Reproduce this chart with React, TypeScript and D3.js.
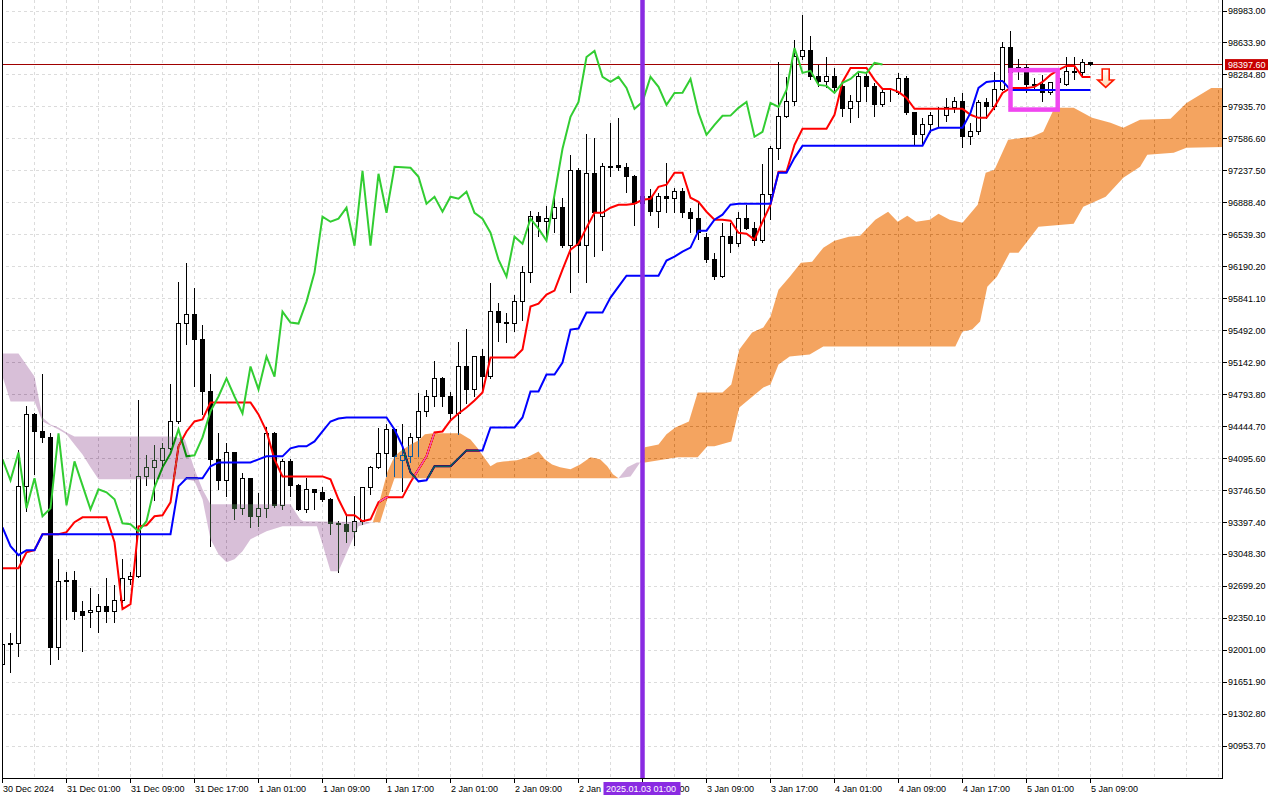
import React from "react";
import * as d3 from "d3";

// hourly candles, 30 Dec 17:00 .. 5 Jan 09:00  [open, high, low, close]
const candles: [number, number, number, number][] = [
  [91849, 92121, 91772, 92067], [92067, 92198, 91761, 92078], [92078, 94194, 91936, 93790], [93790, 94674, 93518, 94576],
  [94576, 94598, 93921, 94390], [94390, 95023, 94270, 94325], [94325, 94379, 91849, 92034], [92034, 93005, 91903, 92754],
  [92754, 92863, 92339, 92765], [92765, 92874, 92339, 92427], [92427, 92547, 91990, 92383], [92416, 92689, 92252, 92438],
  [92427, 92623, 92198, 92481], [92481, 92798, 92307, 92427], [92427, 92721, 92307, 92547], [92547, 93005, 92525, 92787],
  [92776, 92863, 92721, 92809], [92809, 94739, 92798, 93899], [93899, 94139, 93801, 93998], [93998, 94248, 93637, 94074],
  [94074, 94270, 93998, 94205], [94205, 94914, 94194, 94499], [94499, 96027, 94480, 95568], [95568, 96234, 95339, 95667],
  [95667, 95961, 94881, 95394], [95394, 95558, 94576, 94827], [94827, 95023, 93136, 94085], [94085, 94379, 93758, 93856],
  [93856, 94270, 93681, 94161], [94161, 94172, 93430, 93550], [93550, 93943, 93485, 93878], [93878, 93888, 93343, 93463],
  [93463, 93725, 93354, 93550], [93550, 94445, 93452, 94369], [94369, 94390, 93561, 93583], [93583, 94096, 93539, 94063],
  [94063, 94096, 93681, 93801], [93801, 93823, 93528, 93539], [93539, 93888, 93507, 93758], [93758, 93769, 93539, 93725],
  [93725, 93790, 93627, 93649], [93649, 93670, 93267, 93387], [93387, 93419, 92852, 93376], [93376, 93485, 93179, 93299],
  [93299, 93692, 93147, 93409], [93409, 93790, 93376, 93779], [93779, 94019, 93703, 93998], [93998, 94434, 93990, 94150],
  [94150, 94478, 93899, 94412], [94412, 94434, 93899, 94118], [94074, 94478, 93736, 94129], [94118, 94379, 94052, 94325],
  [94325, 94816, 94118, 94609], [94609, 94849, 94554, 94772], [94772, 95165, 94663, 94969], [94969, 94990, 94663, 94772],
  [94772, 94827, 94521, 94587], [94587, 95372, 94358, 95099], [95099, 95514, 94696, 94849], [94849, 95219, 94772, 95209],
  [95209, 95296, 94816, 94990], [94990, 96016, 94969, 95699], [95699, 95798, 95372, 95579], [95579, 95688, 95361, 95568],
  [95568, 95885, 95481, 95808], [95808, 96201, 95601, 96125], [96125, 96801, 96016, 96736], [96736, 96790, 96518, 96681],
  [96681, 96856, 96474, 96714], [96714, 96943, 96561, 96834], [96834, 96943, 96398, 96419], [96419, 97412, 95907, 97238],
  [97238, 97270, 96125, 96419], [96419, 97641, 96016, 97205], [97205, 97598, 96299, 96779], [96736, 97325, 96365, 97281],
  [97281, 97761, 97172, 97276], [97292, 97816, 97238, 97270], [97270, 97325, 96998, 97172], [97172, 97194, 96638, 96878],
  [96878, 96976, 96790, 96954], [96954, 97041, 96747, 96790], [96790, 96998, 96616, 96954], [96954, 97325, 96779, 96932],
  [96932, 97052, 96779, 97009], [97009, 97052, 96725, 96779], [96779, 96834, 96561, 96714], [96714, 96889, 96485, 96561],
  [96507, 96561, 96234, 96267], [96267, 96343, 96049, 96081], [96081, 96670, 96070, 96518], [96518, 96670, 96343, 96441],
  [96441, 96790, 96408, 96714], [96714, 96867, 96594, 96605], [96605, 96681, 96419, 96474], [96474, 97314, 96452, 96976],
  [96976, 97510, 96703, 97478], [97478, 98427, 97358, 97827], [97827, 98263, 97816, 97990], [97990, 98667, 97947, 98481],
  [98481, 98950, 98449, 98547], [98547, 98710, 98230, 98263], [98263, 98394, 98154, 98208], [98208, 98481, 98143, 98263],
  [98263, 98361, 98088, 98143], [98154, 98198, 97827, 97914], [97914, 98067, 97761, 97990], [97990, 98307, 97816, 98263],
  [98263, 98307, 97990, 98154], [98154, 98198, 97827, 97958], [97958, 98121, 97936, 98088], [98088, 98143, 97990, 98090],
  [98090, 98307, 98067, 98241], [98241, 98274, 97849, 97870], [97870, 97881, 97521, 97630], [97630, 97816, 97521, 97739],
  [97739, 97881, 97652, 97838], [97838, 97936, 97718, 97840], [97840, 98034, 97772, 97925], [97925, 98045, 97870, 97990],
  [97990, 98088, 97489, 97609], [97609, 97761, 97521, 97663], [97663, 98012, 97630, 97979], [97979, 98034, 97805, 97936],
  [97936, 98318, 97903, 98121], [98121, 98645, 98110, 98579], [98579, 98765, 98285, 98307], [98361, 98459, 98230, 98329],
  [98361, 98405, 98088, 98176], [98176, 98252, 98121, 98165], [98176, 98285, 97990, 98088], [98088, 98208, 98067, 98198],
  [98198, 98285, 98121, 98241], [98176, 98481, 98165, 98318], [98318, 98481, 98230, 98307], [98307, 98459, 98252, 98416],
  [98416, 98427, 98383, 98397.6],
];

const tenkan = [
  92896, 92896, 92896, 93070, 93092, 93267, 93267, 93267, 93289, 93398,
  93452, 93452, 93452, 93452, 93179, 92449, 92503, 93354, 93365, 93463,
  93474, 93616, 94227, 94390, 94499, 94521, 94707, 94707, 94707, 94707,
  94707, 94707, 94576, 94390, 94085, 93899, 93899, 93899, 93899, 93899,
  93899, 93867, 93649, 93474, 93474, 93409, 93430, 93616, 93670, 93670,
  93670, 93834, 93976, 94118, 94379, 94390, 94510, 94587, 94652, 94729,
  94816, 95198, 95198, 95198, 95198, 95285, 95754, 95787, 95885, 95929,
  96158, 96376, 96441, 96616, 96779, 96779, 96834, 96867, 96867, 96878,
  96921, 96932, 97063, 97085, 97216, 97216, 96943, 96899, 96790, 96703,
  96703, 96692, 96561, 96550, 96485, 96681, 96867, 97227, 97227, 97521,
  97696, 97696, 97696, 97696, 97849, 98208, 98361, 98361, 98361, 98230,
  98132, 98132, 98099, 98034, 97914, 97914, 97914, 97914, 97914, 97914,
  97914, 97849, 97816, 97816, 97936, 98088, 98143, 98143, 98143, 98154,
  98208, 98285, 98339, 98383, 98383, 98263, 98263,
];

const kijun = [
  93343, 93136, 93038, 93092, 93092, 93267, 93267, 93267, 93267, 93267,
  93267, 93267, 93267, 93267, 93267, 93267, 93267, 93267, 93267, 93267,
  93267, 93267, 93790, 93878, 93878, 93878, 94009, 94052, 94052, 94052,
  94052, 94052, 94085, 94118, 94118, 94118, 94205, 94227, 94227, 94281,
  94390, 94499, 94532, 94543, 94543, 94543, 94543, 94543, 94543, 94412,
  94227, 93943, 93845, 93856, 94009, 94009, 94009, 94096, 94183, 94183,
  94183, 94434, 94434, 94434, 94434, 94543, 94827, 94827, 95012, 95012,
  95143, 95503, 95514, 95688, 95688, 95688, 95852, 95972, 96092, 96092,
  96092, 96092, 96092, 96256, 96299, 96354, 96398, 96583, 96583, 96703,
  96758, 96867, 96878, 96878, 96878, 96878, 96878, 97216, 97216, 97379,
  97510, 97510, 97510, 97510, 97510, 97510, 97510, 97510, 97510, 97510,
  97510, 97510, 97510, 97510, 97510, 97510, 97674, 97707, 97707, 97707,
  97707, 97870, 98143, 98208, 98219, 98219, 98121, 98121, 98121, 98121,
  98121, 98121, 98121, 98121, 98121, 98121, 98121,
];

// kumo outline vertices [bar, price]; span B above span A -> thistle, else sandy brown
const bearSpanB: [number, number][] = [
  [-0.5, 95241], [2, 95241], [4, 94990], [5, 94543], [6, 94467], [7, 94434], [8, 94379], [9, 94336],
  [21.3, 94336], [22.8, 94303], [24, 93976], [25, 93758], [26, 93594], [36, 93594], [37.2, 93430],
  [37.6, 93409], [46.3, 93398],
];
const bearSpanA: [number, number][] = [
  [-0.5, 94990], [0, 94990], [1, 94718], [4, 94718], [5, 94499], [6, 94456], [7, 94412], [8, 94358],
  [9, 94248], [10, 94139], [11, 93998], [12, 93867], [23, 93867], [24, 93845], [25, 93649], [26, 93212],
  [27, 93048], [28, 92961], [29, 92994], [30, 93081], [31, 93212], [33, 93299], [35, 93354], [39.3, 93354],
  [40, 93158], [41, 92863], [42, 92863], [43.5, 93158], [44.5, 93354], [46.3, 93398],
];
const bullSpanA1: [number, number][] = [
  [46.3, 93398], [47.2, 93649], [48.1, 93943], [49, 94118], [49.7, 94172], [51, 94248], [52, 94292],
  [52.8, 94358], [53.8, 94369], [57.2, 94369], [58.5, 94303], [59.3, 94216], [60.1, 94118], [61, 94009],
  [61.8, 94052], [62.6, 94063], [64.3, 94074], [65.6, 94107], [67, 94172], [67.8, 94085], [68.7, 94030],
  [69.7, 93998], [71, 93976], [72.2, 94030], [73.5, 94107], [74.7, 94085], [75.6, 94009], [76.3, 93921],
  [77, 93878],
];
const bullSpanB1: [number, number][] = [[46.3, 93398], [47.2, 93398], [48.1, 93649], [49, 93878], [77, 93878]];
const lensSpanB: [number, number][] = [[77, 93878], [78.1, 93998], [79.3, 94052], [79.7, 94052]];
const lensSpanA: [number, number][] = [[77, 93878], [78.5, 93899], [79.3, 93998], [79.7, 94052]];
const bullSpanA2: [number, number][] = [
  [79.7, 94052], [80.3, 94216], [82, 94248], [83, 94358], [84.1, 94434], [85.8, 94499], [86.9, 94816],
  [90, 94816], [91.1, 94903], [92.1, 95285], [93.7, 95470], [95.1, 95525], [96, 95645], [97, 95939],
  [98.4, 96081], [99.8, 96234], [101.2, 96245], [102.6, 96398], [104, 96474], [105.8, 96518],
  [107.2, 96529], [109.1, 96703], [110.7, 96790], [111.9, 96681], [113.1, 96747], [114.2, 96681],
  [115.9, 96703], [117, 96769], [118.4, 96703], [120, 96670], [121.9, 96867], [122.9, 97216], [124, 97249],
  [125.7, 97576], [128.7, 97609], [130.1, 97663], [131.5, 97925], [133.9, 97925], [136.2, 97816],
  [138.5, 97761], [140.1, 97707], [142.2, 97794], [146, 97805], [148, 97979], [151.1, 98143], [153, 98143],
];
const bullSpanB2: [number, number][] = [
  [79.7, 94052], [80.3, 94052], [84.4, 94107], [86.9, 94107], [88.1, 94227], [89, 94227], [91.1, 94281],
  [92.1, 94652], [95.1, 94870], [96, 94903], [97, 95121], [98.4, 95209], [100.9, 95230], [102.6, 95318],
  [119.1, 95318], [120, 95481], [121.2, 95503], [122.2, 95590], [123.1, 95972], [124.3, 96081],
  [125.9, 96343], [127, 96343], [129.5, 96627], [133.9, 96659], [135.1, 96845], [137.9, 96954],
  [140.1, 97161], [142.2, 97281], [143.1, 97412], [146.4, 97434], [148, 97489], [153, 97499],
];

const priceTicks = [
  98983.0, 98633.9, 98284.8, 97935.7, 97586.6, 97237.5, 96888.4, 96539.3, 96190.2, 95841.1, 95492.0, 95142.9,
  94793.8, 94444.7, 94095.6, 93746.5, 93397.4, 93048.3, 92699.2, 92350.1, 92001.0, 91651.9, 91302.8, 90953.7,
];
// one label every 8 bars
const timeLabels = [
  "30 Dec 2024", "31 Dec 01:00", "31 Dec 09:00", "31 Dec 17:00", "1 Jan 01:00", "1 Jan 09:00",
  "1 Jan 17:00", "2 Jan 01:00", "2 Jan 09:00", "2 Jan 17:00", "3 Jan 01:00", "3 Jan 09:00",
  "3 Jan 17:00", "4 Jan 01:00", "4 Jan 09:00", "4 Jan 17:00", "5 Jan 01:00", "5 Jan 09:00",
];

const lastPrice = 98397.6;
const markerBar = 80;
const markerLabel = "2025.01.03 01:00";
const boxFrom = 126, boxTo = 131.9, boxHigh = 98337, boxLow = 97906;
const arrowBar = 137.9, arrowPrice = 98350;

const FONT = "'Liberation Sans', Arial, sans-serif";

export default function App() {
  const x = d3.scaleLinear().domain([0, 150]).range([2.5, 1202.5]);
  const y = d3.scaleLinear().domain([90953.7, 98983]).range([746, 11]);
  const px = (v: number) => Math.round(v - 0.5) + 0.5;

  const seriesLine = d3.line<number>().x((_, i) => x(i)).y((d) => y(d));
  const ptLine = d3.line<[number, number]>().x((d) => x(d[0])).y((d) => y(d[1]));
  const kumo = (upper: [number, number][], lower: [number, number][]) =>
    (ptLine([...upper, ...lower.slice().reverse()]) || "") + "Z";
  const chikou: [number, number][] = candles.slice(26).map((c, k) => [k, c[3]]);

  const right = 1222.5, bottom = 778.5;
  const gridBars = d3.range(0, 153, 4);
  const ax = x(arrowBar), ay = y(arrowPrice);

  // the marker time tag covers the labels under it: only their visible parts are written
  const tagLeft = 603.5, tagRight = 680.5;
  const markerIdx = markerBar / 8;
  const timeText = (t: string, k: number) => {
    const lx = x(k * 8) + 0.5;
    if (k === markerIdx - 1) return { tx: lx, anchor: "start", s: t.split(" ").slice(0, 2).join(" ") };
    if (k === markerIdx) return { tx: lx + 46.5, anchor: "end", s: t.slice(-2) };
    return { tx: lx, anchor: "start", s: t };
  };

  return (
    <svg width={1280} height={800} style={{ position: "absolute", left: 0, top: 0, background: "#fff" }}>
      <defs>
        <clipPath id="plot">
          <rect x={2.5} y={0} width={right - 2.5} height={bottom} />
        </clipPath>
        <linearGradient id="arrowFill" x1="0" y1="0" x2="0" y2="1">
          <stop offset="0" stopColor="#ffffff" />
          <stop offset="1" stopColor="#ffd8b0" />
        </linearGradient>
      </defs>
      <rect width={1280} height={800} fill="#fff" />
      <g clipPath="url(#plot)">
        <rect x={0} y={0} width={1280} height={800} fill="#fff" />
        {/* grid */}
        <g stroke="#dcdcdc" strokeDasharray="3,3" strokeWidth={1}>
          {gridBars.map((b) => (
            <line key={"v" + b} x1={px(x(b))} x2={px(x(b))} y1={0} y2={bottom} />
          ))}
          {priceTicks.map((p) => (
            <line key={"h" + p} x1={0} x2={right} y1={px(y(p))} y2={px(y(p))} />
          ))}
        </g>
        {/* last price line */}
        <line x1={0} x2={right} y1={px(y(lastPrice))} y2={px(y(lastPrice))} stroke="#a00000" strokeWidth={1} />
        {/* candles */}
        <g shapeRendering="crispEdges">
          {candles.map(([o, h, l, c], i) => {
            const cx = x(i);
            const top = px(y(Math.max(o, c)));
            const bot = px(y(Math.min(o, c)));
            const bull = c >= o;
            return (
              <g key={i}>
                <line x1={cx} x2={cx} y1={px(y(h))} y2={px(y(l))} stroke="#000" strokeWidth={1} />
                <rect x={cx - 2} y={top} width={4} height={Math.max(bot - top, 0)}
                  fill={bull ? "#fff" : "#000"} stroke="#000" strokeWidth={1} />
              </g>
            );
          })}
        </g>
        {/* ichimoku lines */}
        <path d={seriesLine(tenkan) || ""} fill="none" stroke="#ff0000" strokeWidth={2} />
        <path d={seriesLine(kijun) || ""} fill="none" stroke="#0000ff" strokeWidth={2} />
        <path d={ptLine(chikou) || ""} fill="none" stroke="#32cd32" strokeWidth={2} />
        {/* kumo, drawn as an inverting fill like the terminal does */}
        <g style={{ mixBlendMode: "difference" }}>
          <path d={kumo(bearSpanB, bearSpanA)} fill="#274027" />
          <path d={kumo(bullSpanA1, bullSpanB1)} fill="#0b5b9f" />
          <path d={kumo(lensSpanB, lensSpanA)} fill="#274027" />
          <path d={kumo(bullSpanA2, bullSpanB2)} fill="#0b5b9f" />
        </g>
        {/* marker line */}
        <line x1={x(markerBar)} x2={x(markerBar)} y1={0} y2={bottom} stroke="#8a2be2" strokeWidth={4.5} />
        {/* rectangle annotation */}
        <rect x={x(boxFrom)} y={y(boxHigh)} width={x(boxTo) - x(boxFrom)} height={y(boxLow) - y(boxHigh)}
          fill="none" stroke="#f046f0" strokeWidth={4.5} />
        {/* sell arrow */}
        <path
          d={`M${ax - 3.5},${ay} L${ax + 3.5},${ay} L${ax + 3.5},${ay + 11} L${ax + 8},${ay + 11} L${ax},${ay + 18.5} L${ax - 8},${ay + 11} L${ax - 3.5},${ay + 11} Z`}
          fill="url(#arrowFill)" stroke="#ff1a00" strokeWidth={1.6} strokeLinejoin="miter" />
      </g>
      {/* frame */}
      <g stroke="#000" strokeWidth={1} fill="none" shapeRendering="crispEdges">
        <line x1={2.5} x2={2.5} y1={0} y2={bottom} />
        <line x1={right} x2={right} y1={0} y2={bottom} />
        <line x1={2.5} x2={right} y1={bottom} y2={bottom} />
        {priceTicks.map((p) => (
          <line key={"pt" + p} x1={right} x2={right + 4} y1={px(y(p))} y2={px(y(p))} />
        ))}
        {timeLabels.map((t, k) => (
          <line key={"tt" + t} x1={px(x(k * 8))} x2={px(x(k * 8))} y1={bottom} y2={bottom + 4} />
        ))}
      </g>
      <g fontFamily={FONT} fontSize={9} fill="#000">
        {priceTicks.map((p) => (
          <text key={"pl" + p} x={1228} y={y(p) + 3.2}>{d3.format(".2f")(p)}</text>
        ))}
        {timeLabels.map((t, k) => {
          const { tx, anchor, s } = timeText(t, k);
          return (
            <text key={"tl" + t} x={tx} y={791.5} textAnchor={anchor}>{s}</text>
          );
        })}
      </g>
      {/* last price tag */}
      <rect x={1225} y={y(lastPrice) - 5.5} width={43} height={11} fill="#c80000" />
      <text x={1228} y={y(lastPrice) + 3.2} fontFamily={FONT} fontSize={9} fill="#fff">
        {d3.format(".2f")(lastPrice)}
      </text>
      {/* marker time tag */}
      <rect x={tagLeft} y={782} width={tagRight - tagLeft} height={13} fill="#8a2be2" />
      <text x={606} y={791.5} fontFamily={FONT} fontSize={9} fill="#fff">{markerLabel}</text>
    </svg>
  );
}
